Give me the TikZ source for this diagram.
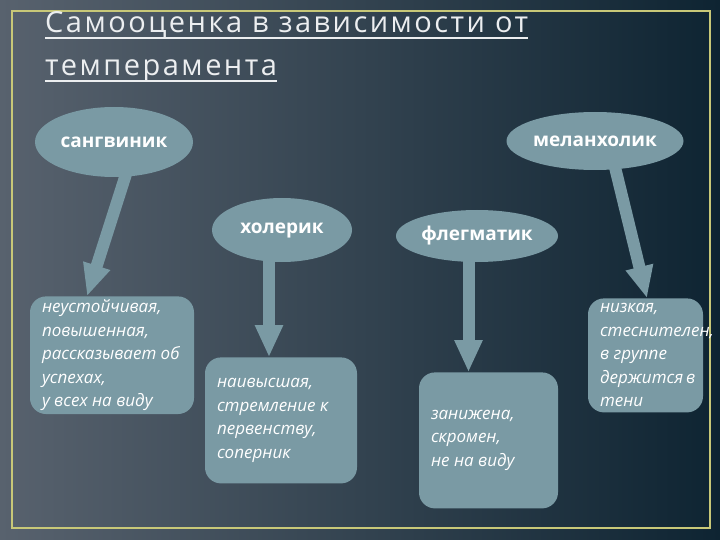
\documentclass[tikz,border=0pt]{standalone}
\usepackage{fontspec}
\setmainfont{Open Sans}
\newfontfamily\headfont[LetterSpace=8.5]{Open Sans}
\usetikzlibrary{shapes.geometric, arrows.meta, positioning}
\definecolor{slate}{RGB}{122,154,164}
\definecolor{frameline}{RGB}{200,200,120}
\definecolor{bgleft}{RGB}{88,98,110}
\definecolor{bgmid}{RGB}{60,68,80}
\definecolor{bgright}{RGB}{14,36,50}
\definecolor{headtext}{RGB}{236,238,240}
\tikzstyle{heading} = [inner sep=0pt, text=headtext, font=\headfont\fontsize{29}{34}\selectfont]
\tikzstyle{headrule} = [draw=headtext, line width=1.2pt]
\tikzstyle{temper} = [ellipse, inner sep=0pt, fill=slate, text=white, font=\bfseries\fontsize{19}{22}\selectfont]
\tikzstyle{trait} = [rectangle, rounded corners=16pt, inner xsep=12pt, fill=slate, text=white, align=flush left, font=\itshape\fontsize{17}{23.5}\selectfont]
\tikzstyle{pointer} = [draw=slate, line width=12pt, -{Triangle[width=26pt,length=32pt]}]

\begin{document}
\begin{tikzpicture}[x=1pt, y=-1pt]
  \useasboundingbox (0,0) rectangle (720,540);
  \fill[left color=bgleft, middle color=bgmid, right color=bgright] (0,0) rectangle (720,540);
  \draw[frameline, line width=2pt] (12,11) rectangle (710,528);
  %Heading
  \node (head1) [heading, anchor=base west] at (45,33) {Самооценка в зависимости от};
  \node (head2) [heading, anchor=base west] at (45,76) {темперамента};
  \draw [headrule] ([yshift=-5pt]head1.base west) -- ([yshift=-5pt]head1.base east);
  \draw [headrule] ([yshift=-5pt]head2.base west) -- ([yshift=-5pt]head2.base east);
  %Temperaments
  \node (sang) [temper, minimum width=158pt, minimum height=70pt] at (114,142) {сангвиник};
  \node (hol) [temper, minimum width=140pt, minimum height=64pt] at (282,230) {холерик};
  \node (fleg) [temper, minimum width=162pt, minimum height=52pt] at (477,236) {флегматик};
  \node (mel) [temper, minimum width=177pt, minimum height=58pt] at (595,141) {меланхолик};
  %Self-esteem
  \node (sangbox) [trait, text width=140pt, minimum height=117pt, below = 119pt of sang, xshift=-2pt] {неустойчивая,\\повышенная,\\рассказывает~об\\успехах,\\у всех на виду};
  \node (holbox) [trait, text width=128pt, minimum height=126pt, below = 95pt of hol, xshift=-1pt] {наивысшая,\\стремление~к\\первенству,\\соперник};
  \node (flegbox) [trait, text width=115pt, minimum height=136pt, below = 110pt of fleg, xshift=11.5pt] {занижена,\\скромен,\\не на виду};
  \node (melbox) [trait, text width=91pt, minimum height=114pt, below = 128pt of mel, xshift=50.5pt] {низкая,\\стеснителен,\\в группе\\держится~в\\тени};
  \draw [pointer] ([xshift=12pt, yshift=3pt]sang.south) -- ([xshift=-25pt]sangbox.north);
  \draw [pointer] ([xshift=-13pt, yshift=3pt]hol.south) -- ([xshift=-12pt]holbox.north);
  \draw [pointer] ([xshift=-8.5pt, yshift=3pt]fleg.south) -- ([xshift=-20pt]flegbox.north);
  \draw [pointer] ([xshift=20pt, yshift=3pt]mel.south) -- ([xshift=1.5pt]melbox.north);
\end{tikzpicture}
\end{document}
